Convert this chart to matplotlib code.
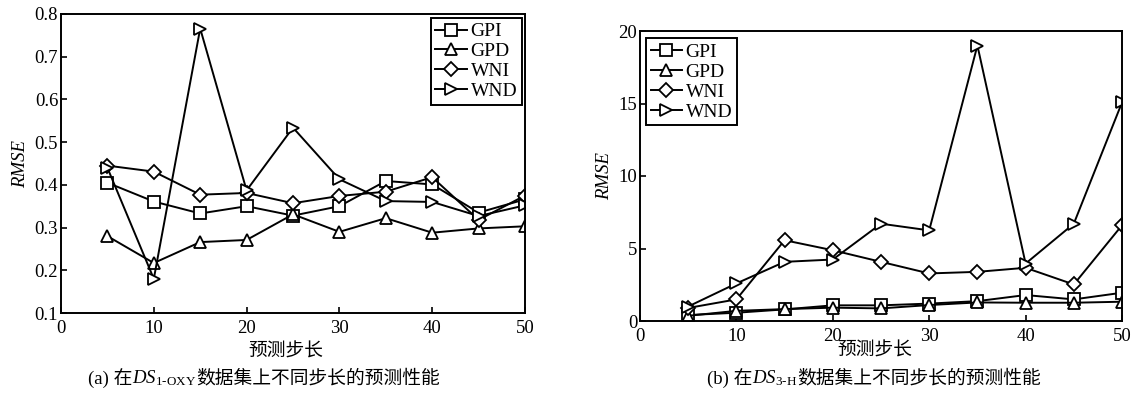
import matplotlib
matplotlib.use("Agg")
import matplotlib.pyplot as plt
from matplotlib.offsetbox import TextArea, HPacker, AnchoredOffsetbox

steps = [5, 10, 15, 20, 25, 30, 35, 40, 45, 50]

# Panel (a): DS1-OXY
a_gpi = [0.405, 0.361, 0.333, 0.350, 0.328, 0.350, 0.409, 0.401, 0.335, 0.366]
a_gpd = [0.280, 0.217, 0.266, 0.271, 0.331, 0.290, 0.322, 0.288, 0.298, 0.303]
a_wni = [0.445, 0.431, 0.377, 0.381, 0.357, 0.374, 0.384, 0.418, 0.318, 0.375]
a_wnd = [0.440, 0.180, 0.766, 0.387, 0.534, 0.413, 0.362, 0.360, 0.327, 0.352]

# Panel (b): DS3-H
b_gpi = [0.41, 0.57, 0.80, 1.08, 1.08, 1.20, 1.37, 1.79, 1.49, 1.95]
b_gpd = [0.36, 0.70, 0.82, 0.92, 0.87, 1.10, 1.28, 1.26, 1.26, 1.33]
b_wni = [0.90, 1.49, 5.57, 4.88, 4.08, 3.28, 3.39, 3.67, 2.52, 6.60]
b_wnd = [1.00, 2.59, 4.08, 4.24, 6.71, 6.25, 19.0, 3.96, 6.71, 15.07]

labels = ["GPI", "GPD", "WNI", "WND"]
markers = ["s", "^", "D", ">"]
xticks = [0, 10, 20, 30, 40, 50]
a_yticks = [0.1, 0.2, 0.3, 0.4, 0.5, 0.6, 0.7, 0.8]
a_yticklabels = ["0.1", "0.2", "0.3", "0.4", "0.5", "0.6", "0.7", "0.8"]
b_yticks = [0, 5, 10, 15, 20]
xlabel_text = "预测步长"
cap_a = ["(a) 在", r"$DS_{\mathrm{1\text{-}OXY}}$", "数据集上不同步长的预测性能"]
cap_b = ["(b) 在", r"$DS_{\mathrm{3\text{-}H}}$", "数据集上不同步长的预测性能"]

plt.rcParams['mathtext.fontset'] = 'custom'
plt.rcParams['mathtext.rm'] = 'Liberation Serif'
plt.rcParams['mathtext.it'] = 'Liberation Serif:italic'
plt.rcParams['font.family'] = ['Liberation Serif', 'Noto Sans CJK SC']

W, H = 1131, 393
fig = plt.figure(figsize=(W / 100, H / 100), dpi=100)

def px_axes(l, r, t, b):
    return fig.add_axes([l / W, 1 - b / H, (r - l) / W, (b - t) / H])

ax1 = px_axes(61, 525, 14, 313)
ax2 = px_axes(640, 1122, 31, 321)

def draw(ax, series, yticks, yticklabels, ylim, legend_loc, legend_anchor):
    for vals, lab, mk in zip(series, labels, markers):
        ms = 7.5 if mk == "D" else 8.5
        ax.plot(steps, vals, color='black', lw=1.4, marker=mk, markersize=ms,
                markerfacecolor='white', markeredgecolor='black', markeredgewidth=1.3,
                label=lab)
    ax.set_xlim(0, 50)
    ax.set_ylim(*ylim)
    ax.set_xticks(xticks)
    ax.set_yticks(yticks)
    ax.set_yticklabels(yticklabels)
    ax.tick_params(direction='in', length=4, width=1.2, labelsize=13.5)
    ax.tick_params(axis='x', pad=5)
    ax.tick_params(axis='y', pad=2)
    for s in ax.spines.values():
        s.set_linewidth(1.4)
    ax.set_ylabel("RMSE", fontstyle='italic', fontsize=13.5, labelpad=4)
    leg = ax.legend(loc=legend_loc, bbox_to_anchor=legend_anchor, fontsize=14,
                    frameon=True, fancybox=False, edgecolor='black', framealpha=1,
                    handlelength=1.6, handletextpad=0.2, labelspacing=0.12,
                    borderpad=0.25, borderaxespad=0)
    leg.get_frame().set_linewidth(1.4)

draw(ax1, [a_gpi, a_gpd, a_wni, a_wnd], a_yticks, a_yticklabels, (0.1, 0.8),
     'upper right', (0.9935, 0.987))
draw(ax2, [b_gpi, b_gpd, b_wni, b_wnd], b_yticks, [str(v) for v in b_yticks], (0, 20),
     'upper left', (0.012, 0.975))

cjk = ['Liberation Serif', 'Noto Sans CJK SC']
fig.text(286 / W, 1 - 352 / H, xlabel_text, ha='center', va='center', fontsize=13.5, family=cjk)
fig.text(875 / W, 1 - 351 / H, xlabel_text, ha='center', va='center', fontsize=13.5, family=cjk)

def caption(parts, cx, cy):
    boxes = [TextArea(p, textprops=dict(fontsize=13.5, family=cjk)) for p in parts]
    pack = HPacker(children=boxes, align='baseline', pad=0, sep=0)
    ab = AnchoredOffsetbox(loc='center', child=pack, pad=0, borderpad=0, frameon=False,
                           bbox_to_anchor=(cx / W, 1 - cy / H), bbox_transform=fig.transFigure)
    fig.add_artist(ab)

caption(cap_a, 264, 378)
caption(cap_b, 874, 378)

fig.savefig("out.png", dpi=100)
